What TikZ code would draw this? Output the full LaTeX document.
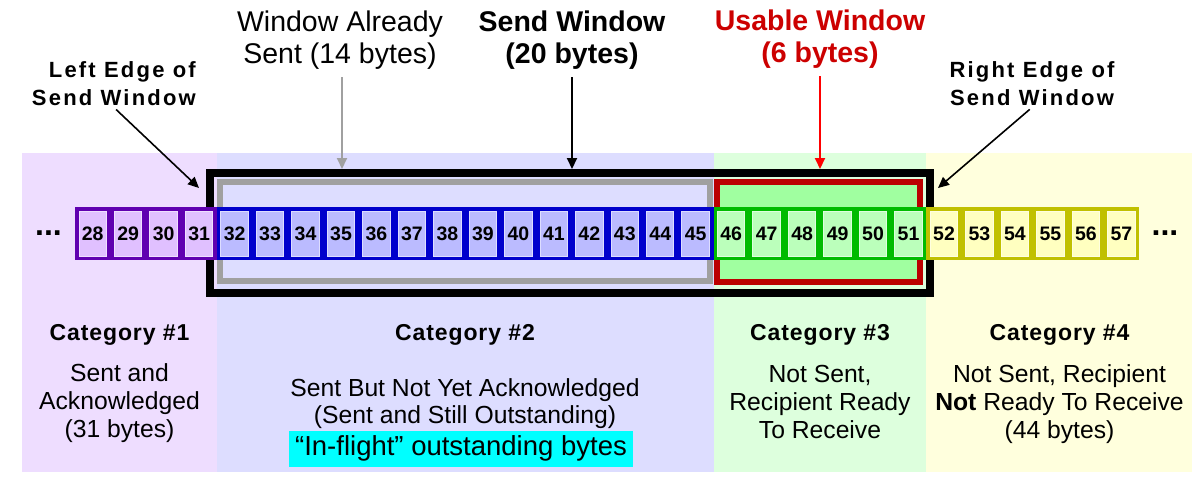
\documentclass[tikz,border=0pt]{standalone}
\usepackage{fontspec}
\setmainfont{Liberation Sans}
\newfontfamily\spaced[LetterSpace=10]{Liberation Sans}
\newfontfamily\catfont[LetterSpace=4]{Liberation Sans}
\usetikzlibrary{arrows.meta}
\definecolor{bgA}{HTML}{EEDDFF}
\definecolor{bgB}{HTML}{DDDDFF}
\definecolor{bgC}{HTML}{DDFFDD}
\definecolor{bgD}{HTML}{FFFFDD}
\definecolor{stA}{HTML}{6000B0}
\definecolor{flA}{HTML}{E0C0FF}
\definecolor{stB}{HTML}{0000CC}
\definecolor{flB}{HTML}{BBBBFF}
\definecolor{stC}{HTML}{00BB00}
\definecolor{flC}{HTML}{BBFFBB}
\definecolor{stD}{HTML}{C0C000}
\definecolor{flD}{HTML}{FFFFC0}
\definecolor{grayline}{HTML}{A0A0A0}
\definecolor{redbox}{HTML}{BB0000}
\definecolor{redfill}{HTML}{A0FFA0}
\definecolor{redtext}{HTML}{CC0000}
\definecolor{redarrow}{HTML}{FF0000}
\definecolor{hl}{HTML}{00FFFF}
\begin{document}
\begin{tikzpicture}[x=1pt,y=-1pt,
  cell/.style={minimum width=27.47pt, minimum height=45pt, inner sep=0pt, line width=1pt,
    font=\fontsize{19.5}{21}\selectfont\bfseries},
  cellA/.style={cell, fill=flA, draw=flA!50!white},
  cellB/.style={cell, fill=flB, draw=flB!50!white},
  cellC/.style={cell, fill=flC, draw=flC!50!white},
  cellD/.style={cell, fill=flD, draw=flD!50!white},
  toplabel/.style={anchor=base, align=center, inner sep=2pt, font=\fontsize{28.5}{32}\selectfont},
  sidelabel/.style={inner sep=2pt, font=\fontsize{22}{28}\selectfont\spaced\bfseries},
  cathead/.style={anchor=base, inner sep=0pt, font=\fontsize{23}{26}\selectfont\catfont\bfseries},
  catbody/.style={anchor=base, align=center, inner sep=0pt, font=\fontsize{24.7}{28}\selectfont},
  dots/.style={anchor=base, inner sep=0pt, font=\fontsize{32}{32}\selectfont\bfseries},
  arr/.style={line width=2pt, -{Triangle[length=11pt,width=10pt]}}
]
\useasboundingbox (0,0) rectangle (1199,480);
% category backgrounds
\fill[bgA] (22,153) rectangle (216.9,472);
\fill[bgB] (216.9,153) rectangle (713.5,472);
\fill[bgC] (713.5,153) rectangle (926.3,472);
\fill[bgD] (926.3,153) rectangle (1192,472);
% windows
\node[draw=black, line width=8pt, minimum width=719.5pt, minimum height=120pt, inner sep=0pt] (sendwin) at (569.75,233) {};
\node[draw=grayline, line width=6pt, minimum width=490pt, minimum height=99pt, inner sep=0pt] (sentwin) at (465,231.5) {};
\node[draw=redbox, fill=redfill, line width=6pt, minimum width=203pt, minimum height=100pt, inner sep=0pt] (usewin) at (818.5,232) {};
% strips
\fill[stA] (75,207) rectangle (216.9,260);
\fill[stB] (216.9,207) rectangle (713.5,260);
\fill[stC] (713.5,207) rectangle (926.3,260);
\fill[stD] (926.3,207) rectangle (1139.1,260);
% cells
\foreach \i in {0,...,29}{
  \pgfmathtruncatemacro{\n}{28+\i}
  \pgfmathsetmacro{\cx}{75+35.47*(\i+0.5)}
  \ifnum\i<4 \def\st{cellA}\else\ifnum\i<18 \def\st{cellB}\else\ifnum\i<24 \def\st{cellC}\else\def\st{cellD}\fi\fi\fi
  \node[\st] (c\n) at (\cx,233.5) {\n};
}
\node[dots] (ldots) at (48.5,235) {...};
\node[dots] (rdots) at (1165,235) {...};
% top labels (anchor base = last line)
\node[toplabel] (wa) at (340,63) {Window Already\\Sent (14 bytes)};
\node[toplabel, font=\fontsize{28.5}{32}\selectfont\bfseries] (sw) at (572,63) {Send Window\\(20 bytes)};
\node[toplabel, text=redtext, font=\fontsize{28.5}{32}\selectfont\bfseries] (uw) at (820,62) {Usable Window\\(6 bytes)};
\node[sidelabel, anchor=base east, align=right] (le) at (198,105) {Left Edge of\\Send Window};
\node[sidelabel, anchor=base, align=center] (re) at (1032,105) {Right Edge of\\Send Window};
% arrows
\coordinate (ltip) at (199,188);
\coordinate (rtip) at (938,188);
\coordinate (gx) at (342,0);
\draw[arr, grayline, shorten <=6pt] (wa.south -| gx) -- (gx |- sendwin.north);
\draw[arr, black, shorten <=6pt] (sw.south) -- (sw.south |- sendwin.north);
\draw[arr, redarrow, shorten <=6pt] (uw.south) -- (uw.south |- sendwin.north);
\draw[line width=1.6pt, -{Triangle[length=11pt,width=10pt]}, shorten <=3pt] (le.south) -- (ltip);
\draw[line width=1.6pt, -{Triangle[length=11pt,width=10pt]}, shorten <=3pt] (re.south) -- (rtip);
% categories
\node[cathead] (h1) at (119.5,340) {Category \#1};
\node[cathead] (h2) at (465,340) {Category \#2};
\node[cathead] (h3) at (820,340) {Category \#3};
\node[cathead] (h4) at (1059.5,340) {Category \#4};
\node[catbody] (b1) at (119.5,437) {Sent and\\Acknowledged\\(31 bytes)};
\node[catbody, font=\fontsize{24.7}{27}\selectfont] (b2) at (465,423) {Sent But Not Yet Acknowledged\\(Sent and Still Outstanding)};
\node[fill=hl, minimum width=344pt, minimum height=36pt, inner sep=0pt, font=\fontsize{27.5}{28}\selectfont] (fl) at (461,448.5) {“In-flight” outstanding bytes};
\node[catbody] (b3) at (820,438) {Not Sent,\\Recipient Ready\\To Receive};
\node[catbody] (b4) at (1059.5,438) {Not Sent, Recipient\\\textbf{Not} Ready To Receive\\(44 bytes)};
\end{tikzpicture}
\end{document}
